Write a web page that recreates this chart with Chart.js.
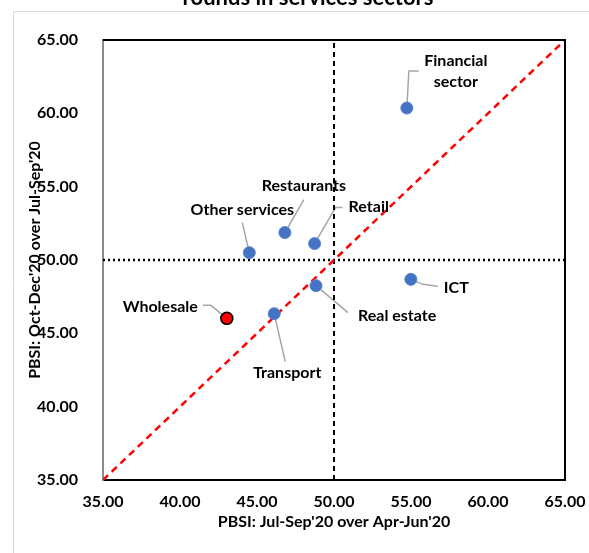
<!DOCTYPE html>
<html>
<head>
<meta charset="utf-8">
<script src="https://cdn.jsdelivr.net/npm/chart.js@4.4.1/dist/chart.umd.min.js"></script>
<style>
  html, body { margin: 0; padding: 0; background: #ffffff; }
  #wrap { width: 589px; height: 553px; position: relative; }
</style>
</head>
<body>
<div id="wrap"><canvas id="c" width="589" height="553"></canvas></div>
<script>
// PBSI by services sector: Jul-Sep'20 vs Apr-Jun'20 (x) and Oct-Dec'20 vs Jul-Sep'20 (y)
const sectors   = ['Financial sector', 'Restaurants', 'Retail', 'Other services', 'ICT', 'Real estate', 'Transport', 'Wholesale'];
const julSepIdx = [54.73, 46.81, 48.74, 44.50, 54.99, 48.83, 46.12, 43.04];
const octDecIdx = [60.36, 51.87, 51.12, 50.50, 48.68, 48.25, 46.34, 46.02];
const highlighted = ['Wholesale'];

const axisMin = 35, axisMax = 65, axisStep = 5, threshold = 50;
const titleText = 'rounds in services sectors';

// label placement relative to each marker (pixel offsets): leader path, text anchor, alignment
const labelLayout = {
  'Financial sector': { path: [[2, -37], [12, -37]], text: ['Financial', 'sector'], at: [49, -47], align: 'center' },
  'Restaurants':      { path: [[19, -33]], text: ['Restaurants'], at: [19, -47], align: 'center' },
  'Retail':           { path: [[21, -36], [28, -36]], text: ['Retail'], at: [34, -37], align: 'left' },
  'Other services':   { path: [[-7, -30]], text: ['Other services'], at: [-7, -43], align: 'center' },
  'ICT':              { path: [[12, 5], [27, 7]], text: ['ICT'], at: [33, 8], align: 'left' },
  'Real estate':      { path: [[32, 27]], text: ['Real estate'], at: [42, 30], align: 'left' },
  'Transport':        { path: [[11, 48]], text: ['Transport'], at: [13, 59], align: 'center' },
  'Wholesale':        { path: [[-16, -13], [-24, -13]], text: ['Wholesale'], at: [-29, -12], align: 'right' }
};

const FONT = 'Lato, "Open Sans", sans-serif';
const points = sectors.map((s, i) => ({ x: julSepIdx[i], y: octDecIdx[i], name: s }));

const decorations = {
  id: 'decorations',
  beforeDraw(chart) {
    const ctx = chart.ctx;
    ctx.save();
    ctx.fillStyle = '#ffffff';
    ctx.fillRect(0, 0, chart.width, chart.height);
    // outer panel edge
    ctx.strokeStyle = '#d9d9d9';
    ctx.lineWidth = 1;
    ctx.beginPath();
    ctx.moveTo(13.5, chart.height + 2);
    ctx.lineTo(13.5, 11.5);
    ctx.lineTo(chart.width + 2, 11.5);
    ctx.stroke();
    // chart heading (upper line falls above the canvas)
    ctx.fillStyle = '#000000';
    ctx.font = 'bold 22px ' + FONT;
    ctx.textAlign = 'center';
    ctx.textBaseline = 'alphabetic';
    ctx.fillText(titleText, 308, 5);
    ctx.restore();
  },
  beforeDatasetsDraw(chart) {
    const ctx = chart.ctx;
    const meta = chart.getDatasetMeta(0);
    ctx.save();
    ctx.strokeStyle = '#a6a6a6';
    ctx.lineWidth = 1.5;
    meta.data.forEach((el, i) => {
      const lay = labelLayout[sectors[i]];
      if (!lay) return;
      ctx.beginPath();
      ctx.moveTo(el.x, el.y);
      lay.path.forEach(p => ctx.lineTo(el.x + p[0], el.y + p[1]));
      ctx.stroke();
    });
    ctx.restore();
  },
  afterDatasetsDraw(chart) {
    const ctx = chart.ctx;
    const a = chart.chartArea;
    const meta = chart.getDatasetMeta(0);
    ctx.save();
    // top and right frame edges
    ctx.strokeStyle = '#000000';
    ctx.lineWidth = 2;
    ctx.beginPath();
    ctx.moveTo(a.left, a.top);
    ctx.lineTo(a.right, a.top);
    ctx.lineTo(a.right, a.bottom);
    ctx.stroke();
    // sector labels
    ctx.fillStyle = '#000000';
    ctx.font = 'bold 16px ' + FONT;
    ctx.textBaseline = 'middle';
    meta.data.forEach((el, i) => {
      const lay = labelLayout[sectors[i]];
      if (!lay) return;
      ctx.textAlign = lay.align;
      lay.text.forEach((t, k) => ctx.fillText(t, el.x + lay.at[0], el.y + lay.at[1] + k * 21));
    });
    ctx.restore();
  }
};

new Chart(document.getElementById('c'), {
  type: 'scatter',
  data: {
    datasets: [
      {
        label: 'Sectors',
        data: points,
        order: 0,
        pointRadius: 6,
        pointHoverRadius: 6,
        pointBackgroundColor: sectors.map(s => highlighted.includes(s) ? '#ff0000' : '#4472c4'),
        pointBorderColor: sectors.map(s => highlighted.includes(s) ? '#000000' : '#5b83cc'),
        pointBorderWidth: sectors.map(s => highlighted.includes(s) ? 1.5 : 1)
      },
      {
        label: '45-degree line',
        data: [{ x: axisMin, y: axisMin }, { x: axisMax, y: axisMax }],
        showLine: true,
        order: 1,
        borderColor: '#ff0000',
        borderWidth: 2.5,
        borderDash: [7, 5],
        pointRadius: 0
      },
      {
        label: 'x threshold',
        data: [{ x: threshold, y: axisMin }, { x: threshold, y: axisMax }],
        showLine: true,
        order: 2,
        borderColor: '#000000',
        borderWidth: 2,
        borderDash: [5, 4],
        pointRadius: 0
      },
      {
        label: 'y threshold',
        data: [{ x: axisMin, y: threshold }, { x: axisMax, y: threshold }],
        showLine: true,
        order: 2,
        borderColor: '#000000',
        borderWidth: 2.5,
        borderDash: [2, 3],
        pointRadius: 0
      }
    ]
  },
  options: {
    responsive: false,
    animation: false,
    events: [],
    layout: { padding: { left: 0, right: 24, top: 40, bottom: 0 } },
    plugins: { legend: { display: false }, tooltip: { enabled: false }, title: { display: false } },
    scales: {
      x: {
        type: 'linear',
        min: axisMin, max: axisMax,
        afterFit(scale) { scale.height = 73; scale.paddingLeft = 0; scale.paddingRight = 0; },
        grid: { display: false, drawTicks: false },
        border: { display: true, color: '#000000', width: 2 },
        ticks: {
          stepSize: axisStep,
          padding: 12,
          color: '#000000',
          font: { family: FONT, size: 16, weight: 'bold' },
          callback: v => Number(v).toFixed(2)
        },
        title: {
          display: true,
          text: "PBSI: Jul-Sep'20 over Apr-Jun'20",
          color: '#000000',
          font: { family: FONT, size: 16, weight: 'bold' },
          padding: { top: 0, bottom: 22 }
        }
      },
      y: {
        type: 'linear',
        min: axisMin, max: axisMax,
        afterFit(scale) { scale.width = 103; scale.paddingTop = 0; scale.paddingBottom = 0; },
        grid: { display: false, drawTicks: false },
        border: { display: true, color: '#8c8c8c', width: 2 },
        ticks: {
          stepSize: axisStep,
          padding: 25,
          color: '#000000',
          font: { family: FONT, size: 16, weight: 'bold' },
          callback: v => Number(v).toFixed(2)
        },
        title: {
          display: true,
          text: "PBSI: Oct-Dec'20 over Jul-Sep'20",
          color: '#000000',
          font: { family: FONT, size: 16, weight: 'bold' },
          padding: { top: 25, bottom: 0 }
        }
      }
    }
  },
  plugins: [decorations]
});
</script>
</body>
</html>
